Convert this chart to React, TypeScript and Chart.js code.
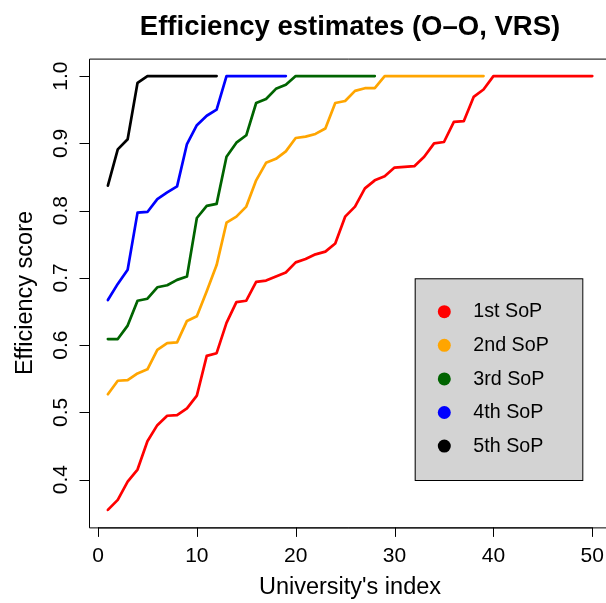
import React, { useEffect, useRef } from "react";
import { Chart, registerables } from "chart.js";

Chart.register(...registerables);

const chartTitle = "Efficiency estimates (O\u2013O, VRS)";
const xAxisTitle = "University's index";
const yAxisTitle = "Efficiency score";

const seriesLabels = ["1st SoP", "2nd SoP", "3rd SoP", "4th SoP", "5th SoP"];
const seriesColors = ["#FF0000", "#FFA500", "#006400", "#0000FF", "#000000"];

const sop1 = [
  0.355, 0.37, 0.397, 0.415, 0.457, 0.481, 0.495, 0.496, 0.506, 0.525,
  0.584, 0.588, 0.633, 0.664, 0.666, 0.694, 0.696, 0.702, 0.708, 0.723,
  0.728, 0.735, 0.739, 0.751, 0.791, 0.806, 0.833, 0.845, 0.851, 0.864,
  0.865, 0.866, 0.88, 0.9, 0.902, 0.932, 0.933, 0.969, 0.98, 1,
  1, 1, 1, 1, 1, 1, 1, 1, 1, 1,
];
const sop2 = [
  0.527, 0.547, 0.548, 0.558, 0.564, 0.593, 0.603, 0.604, 0.636, 0.643,
  0.68, 0.719, 0.782, 0.791, 0.806, 0.845, 0.871, 0.877, 0.888, 0.908,
  0.91, 0.914, 0.922, 0.96, 0.963, 0.978, 0.982, 0.982, 1, 1,
  1, 1, 1, 1, 1, 1, 1, 1, 1,
];
const sop3 = [
  0.609, 0.609, 0.629, 0.666, 0.669, 0.686, 0.689, 0.697, 0.702, 0.789,
  0.807, 0.81, 0.88, 0.901, 0.912, 0.96, 0.966, 0.981, 0.987, 1,
  1, 1, 1, 1, 1, 1, 1, 1,
];
const sop4 = [
  0.667, 0.691, 0.712, 0.797, 0.798, 0.817, 0.827, 0.836, 0.899, 0.927,
  0.941, 0.95, 1, 1, 1, 1, 1, 1, 1,
];
const sop5 = [0.837, 0.891, 0.906, 0.99, 1, 1, 1, 1, 1, 1, 1, 1];

const seriesValues = [sop1, sop2, sop3, sop4, sop5];

const xTicks = [0, 10, 20, 30, 40, 50];
const xTickLabels = ["0", "10", "20", "30", "40", "50"];
const yTicks = [0.4, 0.5, 0.6, 0.7, 0.8, 0.9, 1.0];
const yTickLabels = ["0.4", "0.5", "0.6", "0.7", "0.8", "0.9", "1.0"];

const FONT = "'Liberation Sans', Arial, Helvetica, sans-serif";

const decorPlugin = {
  id: "rDecor",
  afterDraw(chart: any) {
    const ctx = chart.ctx as CanvasRenderingContext2D;
    const xs = chart.scales.x;
    const ys = chart.scales.y;
    const ca = chart.chartArea;
    ctx.save();
    ctx.strokeStyle = "#000";
    ctx.fillStyle = "#000";
    ctx.lineWidth = 1;

    // plot box (right edge lies beyond canvas)
    ctx.beginPath();
    ctx.moveTo(ca.right + 20, ca.top + 0.5);
    ctx.lineTo(ca.left + 0.5, ca.top + 0.5);
    ctx.lineTo(ca.left + 0.5, ca.bottom + 0.5);
    ctx.lineTo(ca.right + 20, ca.bottom + 0.5);
    ctx.stroke();

    // x axis
    const x0 = xs.getPixelForValue(xTicks[0]);
    const x1 = xs.getPixelForValue(xTicks[xTicks.length - 1]);
    ctx.beginPath();
    ctx.moveTo(x0, ca.bottom + 0.5);
    ctx.lineTo(x1, ca.bottom + 0.5);
    xTicks.forEach((v) => {
      const px = Math.round(xs.getPixelForValue(v)) + 0.5;
      ctx.moveTo(px, ca.bottom);
      ctx.lineTo(px, ca.bottom + 9.5);
    });
    ctx.stroke();
    ctx.font = `21px ${FONT}`;
    ctx.textAlign = "center";
    ctx.textBaseline = "alphabetic";
    xTicks.forEach((v, i) => {
      ctx.fillText(xTickLabels[i], xs.getPixelForValue(v), 562);
    });

    // y axis
    ctx.beginPath();
    yTicks.forEach((v) => {
      const py = Math.round(ys.getPixelForValue(v)) + 0.5;
      ctx.moveTo(ca.left - 9.5, py);
      ctx.lineTo(ca.left, py);
    });
    ctx.stroke();
    yTicks.forEach((v, i) => {
      ctx.save();
      ctx.translate(67, ys.getPixelForValue(v));
      ctx.rotate(-Math.PI / 2);
      ctx.fillText(yTickLabels[i], 0, 0);
      ctx.restore();
    });

    // axis titles
    ctx.font = `23.5px ${FONT}`;
    ctx.fillText(xAxisTitle, 350, 593.5);
    ctx.save();
    ctx.translate(31.5, (ca.top + ca.bottom) / 2);
    ctx.rotate(-Math.PI / 2);
    ctx.fillText(yAxisTitle, 0, 0);
    ctx.restore();

    // main title
    ctx.font = `bold 27.5px ${FONT}`;
    ctx.fillText(chartTitle, 350, 35);

    // legend
    const lx = 414.7, ly = 278.3, lw = 167.6, lh = 201.7;
    ctx.fillStyle = "#D3D3D3";
    ctx.fillRect(lx, ly, lw, lh);
    ctx.strokeStyle = "#000";
    ctx.strokeRect(lx + 0.5, ly + 0.5, lw, lh);
    ctx.font = `19.7px ${FONT}`;
    ctx.textAlign = "left";
    chart.data.datasets.forEach((ds: any, i: number) => {
      const ry = 311.7 + i * 33.6;
      ctx.beginPath();
      ctx.fillStyle = ds.borderColor;
      ctx.arc(444.3, ry, 6.5, 0, Math.PI * 2);
      ctx.fill();
      ctx.fillStyle = "#000";
      ctx.fillText(ds.label, 473.3, ry + 5.6);
    });

    ctx.restore();
  },
};

export default function App() {
  const canvasRef = useRef<HTMLCanvasElement | null>(null);

  useEffect(() => {
    document.body.style.margin = "0";
    const canvas = canvasRef.current;
    if (!canvas) return;
    const chart = new Chart(canvas, {
      type: "line",
      data: {
        datasets: seriesValues.map((vals, i) => ({
          label: seriesLabels[i],
          data: vals.map((v, j) => ({ x: j + 1, y: v })),
          borderColor: seriesColors[i],
          backgroundColor: seriesColors[i],
          borderWidth: 2.7,
          borderCapStyle: "round" as const,
          borderJoinStyle: "round" as const,
          pointRadius: 0,
          tension: 0,
          fill: false,
        })),
      },
      options: {
        animation: false,
        responsive: false,
        devicePixelRatio: 1,
        layout: { padding: { left: 89, top: 58.6, right: 0, bottom: 75.6 } },
        plugins: {
          legend: { display: false },
          title: { display: false },
          tooltip: { enabled: false },
        },
        scales: {
          x: { type: "linear", display: false, min: -0.91, max: 51.39 },
          y: { type: "linear", display: false, min: 0.329, max: 1.026 },
        },
      },
      plugins: [decorPlugin],
    });
    return () => chart.destroy();
  }, []);

  return (
    <div style={{ width: 606, height: 603, background: "#fff" }}>
      <canvas ref={canvasRef} width={606} height={603} style={{ display: "block" }} />
    </div>
  );
}
